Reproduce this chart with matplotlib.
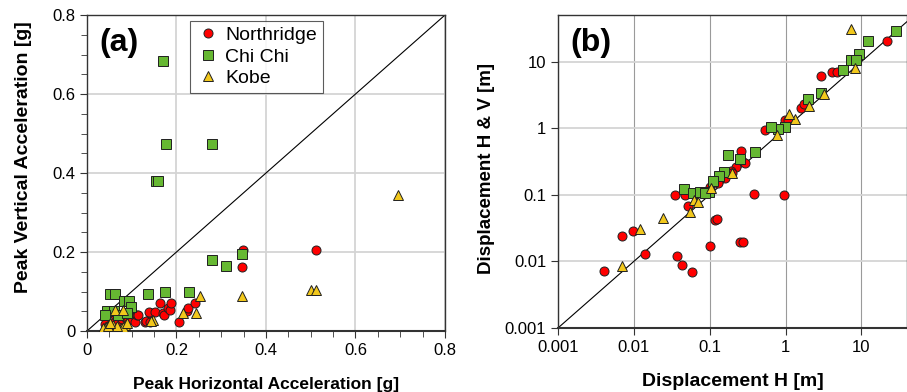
import numpy as np
import matplotlib
matplotlib.use("Agg")
import matplotlib.pyplot as plt
from matplotlib.ticker import MultipleLocator, NullLocator, FixedLocator

plt.rcParams['font.family'] = ['Liberation Sans', 'DejaVu Sans']

# ---- panel (a): peak accelerations [g]
nr_pha = [0.040, 0.048, 0.055, 0.062, 0.063, 0.070, 0.078, 0.085, 0.092, 0.093, 0.100, 0.108,
          0.111, 0.113, 0.130, 0.132, 0.140, 0.141, 0.138, 0.151, 0.163, 0.170, 0.173, 0.181,
          0.185, 0.187, 0.206, 0.223, 0.225, 0.241, 0.346, 0.349, 0.512]
nr_pva = [0.018, 0.012, 0.020, 0.015, 0.040, 0.025, 0.030, 0.035, 0.028, 0.040, 0.030, 0.024,
          0.040, 0.040, 0.024, 0.026, 0.024, 0.045, 0.049, 0.049, 0.071, 0.045, 0.040, 0.058,
          0.053, 0.072, 0.024, 0.050, 0.057, 0.071, 0.163, 0.205, 0.205]

cc_pha = [0.169, 0.176, 0.279, 0.154, 0.159, 0.279, 0.310, 0.346, 0.051, 0.063, 0.137,
          0.174, 0.228, 0.082, 0.095, 0.099, 0.045, 0.060, 0.041, 0.070, 0.090]
cc_pva = [0.684, 0.474, 0.474, 0.380, 0.380, 0.179, 0.164, 0.196, 0.093, 0.093, 0.093,
          0.099, 0.099, 0.077, 0.077, 0.060, 0.051, 0.051, 0.040, 0.040, 0.045]

kb_pha = [0.696, 0.501, 0.511, 0.346, 0.252, 0.243, 0.214, 0.148, 0.142, 0.063, 0.081,
          0.075, 0.058, 0.042, 0.035, 0.085, 0.080, 0.068, 0.048, 0.052, 0.090]
kb_pva = [0.344, 0.105, 0.105, 0.088, 0.088, 0.045, 0.045, 0.029, 0.026, 0.053, 0.053,
          0.007, 0.014, 0.010, 0.008, 0.016, 0.010, 0.012, 0.012, 0.020, 0.020]

# ---- panel (b): displacements [m]
nr_dh = [0.0040, 0.0069, 0.0098, 0.0141, 0.0344, 0.0366, 0.0435, 0.059, 0.0515, 0.047,
         0.102, 0.119, 0.125, 0.252, 0.279, 0.385, 0.95, 0.26, 0.27, 0.29, 0.22, 0.19,
         0.20, 0.16, 0.13, 0.10, 0.085, 0.53, 0.98, 1.08, 1.62, 1.74, 2.9, 4.08, 4.75, 21.7]
nr_dv = [0.0071, 0.024, 0.029, 0.0128, 0.098, 0.012, 0.0088, 0.0070, 0.068, 0.098,
         0.017, 0.042, 0.0435, 0.0193, 0.0193, 0.1035, 0.101, 0.46, 0.32, 0.30, 0.26, 0.23,
         0.21, 0.18, 0.15, 0.13, 0.11, 0.955, 1.32, 1.33, 2.03, 2.35, 6.2, 6.9, 6.9, 20.7]

cc_dh = [28.5, 12.1, 9.2, 7.3, 8.5, 5.7, 2.97, 1.98, 0.98, 0.785, 0.635, 0.396, 0.252,
         0.177, 0.153, 0.131, 0.109, 0.0456, 0.060, 0.0755, 0.097, 0.087]
cc_dv = [29.0, 20.7, 13.2, 10.7, 10.7, 7.57, 3.41, 2.8, 1.04, 0.98, 1.04, 0.435, 0.345,
         0.40, 0.22, 0.189, 0.159, 0.122, 0.108, 0.109, 0.109, 0.106]

kb_dh = [7.3, 8.3, 3.18, 2.02, 1.35, 1.11, 0.77, 0.20, 0.105, 0.062, 0.070, 0.0547,
         0.0242, 0.012, 0.0069]
kb_dv = [31.4, 8.1, 3.22, 2.15, 1.38, 1.64, 0.78, 0.212, 0.126, 0.084, 0.079, 0.0548,
         0.0445, 0.0303, 0.0086]

red = '#ff0000'
green = '#66b832'
yellow = '#f2c81c'
mk = dict(markeredgecolor='#202020', markeredgewidth=0.7, linestyle='none')

fig = plt.figure(figsize=(9.07, 3.92), dpi=100)
ax1 = fig.add_axes([0.0959, 0.1556, 0.3947, 0.806])
ax2 = fig.add_axes([0.6152, 0.1633, 0.3848, 0.798])

# panel (a)
ax1.plot([0, 0.8], [0, 0.8], color='black', lw=0.8, zorder=2)
ax1.plot(nr_pha, nr_pva, marker='o', ms=6.5, color=red, label='Northridge', zorder=3, **mk)
ax1.plot(cc_pha, cc_pva, marker='s', ms=6.5, color=green, label='Chi Chi', zorder=3, **mk)
ax1.plot(kb_pha, kb_pva, marker='^', ms=7.5, color=yellow, label='Kobe', zorder=3, **mk)
ax1.set_xlim(0, 0.8)
ax1.set_ylim(0, 0.8)
ax1.xaxis.set_major_locator(MultipleLocator(0.2))
ax1.yaxis.set_major_locator(MultipleLocator(0.2))
ax1.xaxis.set_minor_locator(MultipleLocator(0.05))
ax1.yaxis.set_minor_locator(MultipleLocator(0.05))
fmt = lambda v, p: '0' if abs(v) < 1e-9 else '%.1f' % v
ax1.xaxis.set_major_formatter(plt.FuncFormatter(fmt))
ax1.yaxis.set_major_formatter(plt.FuncFormatter(fmt))
ax1.grid(True, which='major', color='#d4d4d4', lw=1.3)
ax1.set_axisbelow(True)
ax1.set_xlabel('Peak Horizontal Acceleration [g]', fontsize=12.5, fontweight='bold', labelpad=14)
ax1.set_ylabel('Peak Vertical Acceleration [g]', fontsize=14, fontweight='bold')
ax1.yaxis.set_label_coords(-0.154, 0.55)
ax1.text(0.035, 0.96, '(a)', transform=ax1.transAxes, fontsize=23, fontweight='bold', va='top')
leg = ax1.legend(loc='upper left', bbox_to_anchor=(0.288, 0.982), borderaxespad=0, fontsize=14,
                 frameon=True, fancybox=False, edgecolor='#333333', handletextpad=0.3,
                 borderpad=0.3, labelspacing=0.2, handlelength=1.2, markerscale=1.0)
leg.get_frame().set_linewidth(0.8)

# panel (b)
ax2.set_xscale('log')
ax2.set_yscale('log')
ax2.set_xlim(0.001, 40)
ax2.set_ylim(0.001, 50)
ax2.plot([0.001, 50], [0.001, 50], color='black', lw=0.8, zorder=2)
ax2.plot(nr_dh, nr_dv, marker='o', ms=6.5, color=red, zorder=3, **mk)
ax2.plot(cc_dh, cc_dv, marker='s', ms=6.5, color=green, zorder=3, **mk)
ax2.plot(kb_dh, kb_dv, marker='^', ms=7.5, color=yellow, zorder=3, **mk)
decades = [0.001, 0.01, 0.1, 1, 10]
dec_labels = ['0.001', '0.01', '0.1', '1', '10']
ax2.xaxis.set_major_locator(FixedLocator(decades))
ax2.yaxis.set_major_locator(FixedLocator(decades))
ax2.set_xticklabels(dec_labels)
ax2.set_yticklabels(dec_labels)
ax2.xaxis.set_minor_locator(NullLocator())
ax2.yaxis.set_minor_locator(NullLocator())
ax2.xaxis.grid(True, color='#9a9a9a', lw=0.8)
ax2.yaxis.grid(True, color='#d4d4d4', lw=1.3)
ax2.set_axisbelow(True)
ax2.set_xlabel('Displacement H [m]', fontsize=14, fontweight='bold', labelpad=13)
ax2.set_ylabel('Displacement H & V [m]', fontsize=13.5, fontweight='bold')
ax2.yaxis.set_label_coords(-0.18, 0.51)
ax2.text(0.035, 0.96, '(b)', transform=ax2.transAxes, fontsize=23, fontweight='bold', va='top')

for ax in (ax1, ax2):
    for s in ax.spines.values():
        s.set_color('#333333')
        s.set_linewidth(1.0)
    ax.spines['bottom'].set_linewidth(1.5)
    ax.tick_params(which='both', direction='out', color='#333333', labelsize=12)
    ax.tick_params(which='major', length=5)
    ax.tick_params(which='minor', length=4)

fig.savefig('out.png', dpi=100)
